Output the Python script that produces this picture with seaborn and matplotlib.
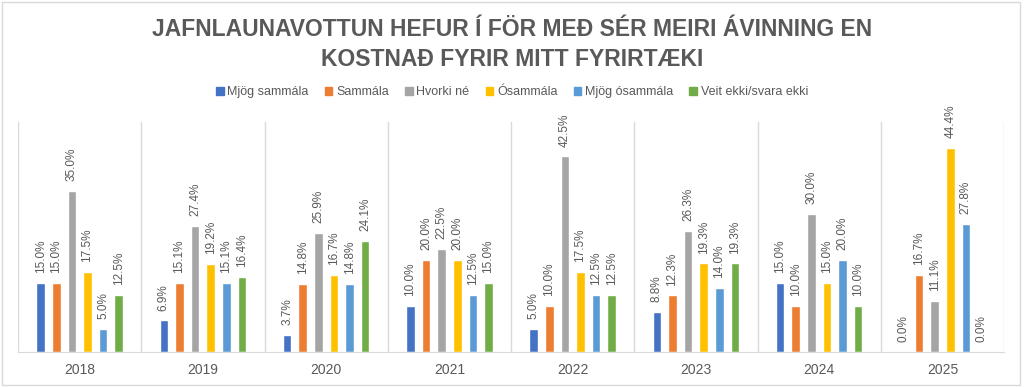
import pandas as pd
import seaborn as sns
import matplotlib.pyplot as plt
from matplotlib.patches import Rectangle

# data (percent)
years = ["2018", "2019", "2020", "2021", "2022", "2023", "2024", "2025"]
responses = ["Mjög sammála", "Sammála", "Hvorki né", "Ósammála", "Mjög ósammála", "Veit ekki/svara ekki"]
mjog_sammala = [15.0, 6.9, 3.7, 10.0, 5.0, 8.8, 15.0, 0.0]
sammala = [15.0, 15.1, 14.8, 20.0, 10.0, 12.3, 10.0, 16.7]
hvorki_ne = [35.0, 27.4, 25.9, 22.5, 42.5, 26.3, 30.0, 11.1]
osammala = [17.5, 19.2, 16.7, 20.0, 17.5, 19.3, 15.0, 44.4]
mjog_osammala = [5.0, 15.1, 14.8, 12.5, 12.5, 14.0, 20.0, 27.8]
veit_ekki = [12.5, 16.4, 24.1, 15.0, 12.5, 19.3, 10.0, 0.0]
colors = ["#4472C4", "#ED7D31", "#A5A5A5", "#FFC000", "#5B9BD5", "#70AD47"]

series = [mjog_sammala, sammala, hvorki_ne, osammala, mjog_osammala, veit_ekki]
rows = []
for resp, vals in zip(responses, series):
    for yr, v in zip(years, vals):
        rows.append({"year": yr, "response": resp, "value": v})
df = pd.DataFrame(rows)

sns.set_style("white")
plt.rcParams["font.family"] = ["Liberation Sans", "DejaVu Sans"]
grey = "#595959"

fig = plt.figure(figsize=(10.24, 3.87), dpi=100)
ax = fig.add_axes([0.0176, 0.0904, 0.9629, 0.5944])

sns.barplot(data=df, x="year", y="value", hue="response", order=years,
            hue_order=responses, palette=colors, width=0.76, gap=0.45,
            ax=ax, legend=False, errorbar=None, saturation=1)

for c in ax.containers:
    ax.bar_label(c, fmt="%.1f%%", rotation=90, padding=7, fontsize=8.5, color=grey)

ax.set_ylim(0, 50)
ax.set_xlim(-0.5, len(years) - 0.5)
ax.set_yticks([])
ax.set_xlabel("")
ax.set_ylabel("")
ax.set_xticks(range(len(years)))
ax.set_xticklabels(years, fontsize=10, color=grey)
ax.tick_params(axis="x", length=0, pad=8)

# vertical separators between years
ax.set_xticks([i - 0.5 for i in range(len(years) + 1)], minor=True)
ax.tick_params(axis="x", which="minor", length=0)
ax.grid(axis="x", which="minor", color="#D9D9D9", linewidth=1)
ax.grid(axis="x", which="major", visible=False)
for side in ["top", "left", "right"]:
    ax.spines[side].set_visible(False)
ax.spines["bottom"].set_color("#D9D9D9")

handles = [Rectangle((0, 0), 1, 1, color=col) for col in colors]
fig.legend(handles, responses, loc="center", bbox_to_anchor=(0.5, 0.762),
           ncol=6, frameon=False, fontsize=9, labelcolor=grey,
           handlelength=0.6, handleheight=0.6, handletextpad=0.3, columnspacing=1.3)

fig.text(0.5, 0.924, "JAFNLAUNAVOTTUN HEFUR Í FÖR MEÐ SÉR MEIRI ÁVINNING EN",
         ha="center", va="center", fontsize=16.5, fontweight="bold", color=grey)
fig.text(0.5, 0.846, "KOSTNAÐ FYRIR MITT FYRIRTÆKI",
         ha="center", va="center", fontsize=16.5, fontweight="bold", color=grey)

fig.patches.append(Rectangle((0.002, 0.005), 0.994, 0.99, transform=fig.transFigure,
                             fill=False, edgecolor="#D9D9D9", linewidth=1))

fig.savefig("out.png", dpi=100)
